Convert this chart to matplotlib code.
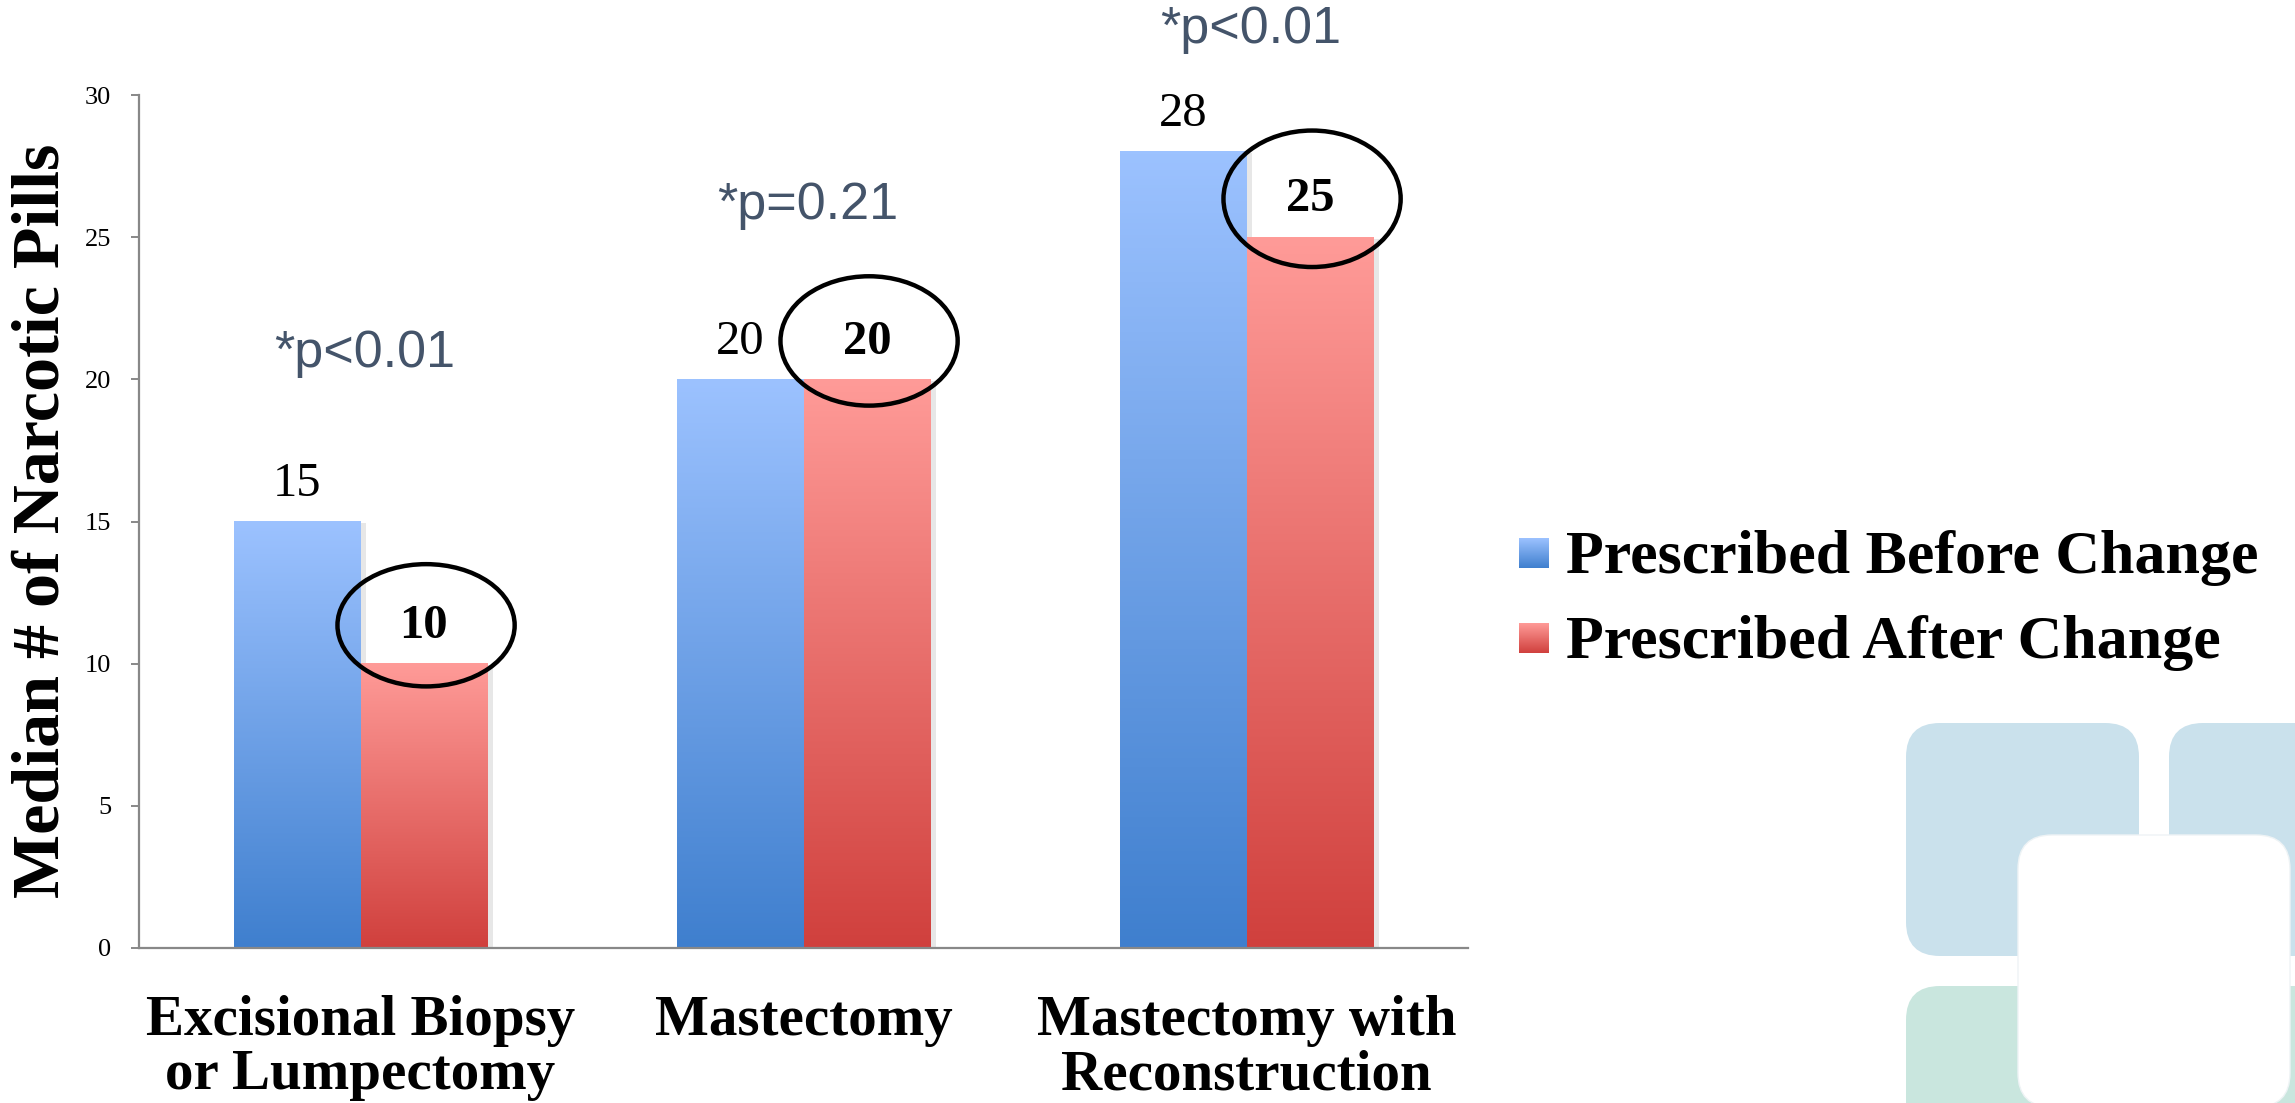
import numpy as np
import matplotlib
matplotlib.use("Agg")
import matplotlib.pyplot as plt
from matplotlib.colors import LinearSegmentedColormap
from matplotlib.patches import Ellipse, FancyBboxPatch
import matplotlib.patheffects as pe

# ---- data ----
categories = ["Excisional Biopsy\nor Lumpectomy", "Mastectomy", "Mastectomy with\nReconstruction"]
before_change = [15, 20, 28]
after_change = [10, 20, 25]
p_values = ["*p<0.01", "*p=0.21", "*p<0.01"]
y_ticks = [0, 5, 10, 15, 20, 25, 30]
series_names = ["Prescribed Before Change", "Prescribed After Change"]

# ---- layout / style ----
W, H = 2295, 1103
DPI = 100
p_label_y = [20.9, 26.1, 32.3]          # heights of the significance notes
ellipse_h = [4.3, 4.55, 4.8]            # circled-value outline heights (data units)
bar_w = 0.286
label_off = 1.33

blue_cmap = LinearSegmentedColormap.from_list("blue", ["#3F7FCE", "#9CC2FF"])
red_cmap = LinearSegmentedColormap.from_list("red", ["#D0403D", "#FF9B98"])
serif = "Liberation Serif"

fig = plt.figure(figsize=(W / DPI, H / DPI), dpi=DPI)

# background layer in pixel coordinates (logo tiles, legend swatches)
bg = fig.add_axes([0, 0, 1, 1], zorder=0)
bg.set_xlim(0, W)
bg.set_ylim(H, 0)
bg.axis("off")

def tile(x0, y0, x1, y1, color, ec="none"):
    bg.add_patch(FancyBboxPatch((x0, y0), x1 - x0, y1 - y0,
                                boxstyle="round,pad=0,rounding_size=34",
                                fc=color, ec=ec, lw=1.0, clip_on=False))

tile(1906, 723, 2139, 956, "#CAE1EC")
tile(2169, 723, 2402, 956, "#CAE1EC")
tile(1906, 986, 2139, 1219, "#C9E6DE")
tile(2169, 986, 2402, 1219, "#C9E6DE")
tile(2018, 835, 2290, 1107, "white", ec="#EEF3F5")

# chart axes
ax = fig.add_axes([139 / W, 1 - 948 / H, (1468 - 139) / W, (948 - 95) / H], zorder=2)
ax.patch.set_alpha(0)

x = np.arange(len(categories))
shadow = [pe.SimplePatchShadow(offset=(4, -1), shadow_rgbFace="#888888", alpha=0.2), pe.Normal()]
bars_b = ax.bar(x - bar_w / 2, before_change, bar_w, color="white", zorder=1, path_effects=shadow)
bars_a = ax.bar(x + bar_w / 2, after_change, bar_w, color="white", zorder=1, path_effects=shadow)

grad = np.linspace(0, 1, 256).reshape(-1, 1)
for bars, cmap in ((bars_b, blue_cmap), (bars_a, red_cmap)):
    for b in bars:
        x0, h = b.get_x(), b.get_height()
        ax.imshow(grad, cmap=cmap, origin="lower", aspect="auto",
                  extent=[x0, x0 + b.get_width(), 0, h], zorder=2)

ax.set_xlim(-0.5, len(categories) - 0.5)
ax.set_ylim(0, 30)

# value labels
for xi, v in zip(x, before_change):
    ax.text(xi - bar_w / 2, v + label_off, str(v), ha="center", va="center",
            fontsize=35, family=serif, color="black", zorder=4)
for xi, v, eh in zip(x, after_change, ellipse_h):
    ax.text(xi + bar_w / 2, v + label_off, str(v), ha="center", va="center",
            fontsize=35, family=serif, fontweight="bold", color="black", zorder=4)
    ax.add_patch(Ellipse((xi + bar_w / 2 + 0.005, v + 1.35), 0.40, eh,
                         fill=False, ec="black", lw=3.2, zorder=5, clip_on=False))

# significance notes
for xi, t, py in zip(x, p_values, p_label_y):
    ax.text(xi + 0.01, py, t, ha="center", va="center", fontsize=37.5,
            family="Liberation Sans", color="#44546A", zorder=4)

# axes styling
for s in ("top", "right"):
    ax.spines[s].set_visible(False)
for s in ("left", "bottom"):
    ax.spines[s].set_color("#888888")
    ax.spines[s].set_linewidth(1.6)
ax.set_yticks(y_ticks)
ax.set_yticklabels([str(t) for t in y_ticks], family=serif, fontsize=19)
ax.tick_params(axis="y", length=6, width=1.4, color="#888888", pad=14)
ax.set_xticks(x)
ax.set_xticklabels(categories, family=serif, fontweight="bold", fontsize=41, linespacing=1.05)
ax.tick_params(axis="x", length=0, pad=34)

fig.text(42 / W, 1 - 521 / H, "Median # of Narcotic Pills", rotation=90, ha="center", va="center",
         family=serif, fontweight="bold", fontsize=49)

# legend
for i, (name, cmap) in enumerate(zip(series_names, (blue_cmap, red_cmap))):
    yc = 553 + i * 85
    bg.imshow(grad, cmap=cmap, origin="lower", aspect="auto",
              extent=[1519, 1549, yc + 15, yc - 15], zorder=3)
    bg.text(1566, yc + 20, name, ha="left", va="baseline", family=serif,
            fontweight="bold", fontsize=44.6)
bg.set_xlim(0, W)
bg.set_ylim(H, 0)

fig.savefig("out.png", dpi=DPI)
